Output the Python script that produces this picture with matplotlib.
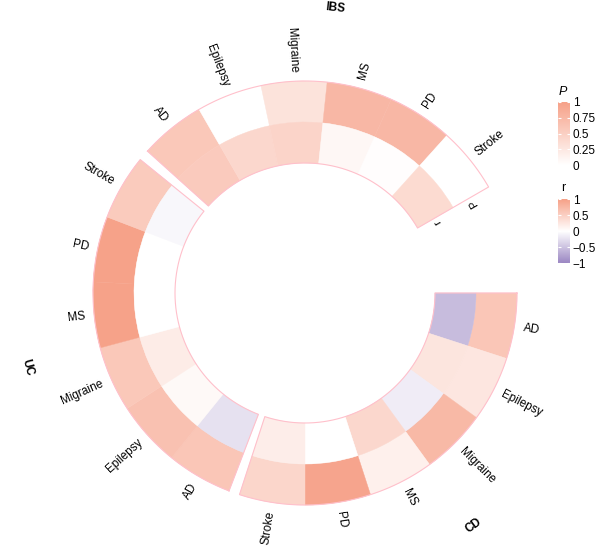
import numpy as np
import matplotlib as mpl
import matplotlib.pyplot as plt
from matplotlib.colors import LinearSegmentedColormap, Normalize

plt.rcParams['font.family'] = ['Liberation Sans', 'DejaVu Sans']

# Datos
sectores = ["CD", "UC", "IBS"]
enfermedades = ["AD", "Epilepsy", "Migraine", "MS", "PD", "Stroke"]

P_CD = [0.60, 0.26, 0.74, 0.16, 0.95, 0.43]
P_UC = [0.60, 0.65, 0.58, 0.98, 0.98, 0.55]
P_IBS = [0.58, 0.0, 0.30, 0.75, 0.75, 0.0]

r_CD = [-0.55, 0.28, -0.15, 0.42, 0.0, 0.18]
r_UC = [-0.25, 0.07, 0.20, 0.0, 0.0, -0.07]
r_IBS = [0.55, 0.42, 0.45, 0.08, 0.02, 0.38]

P_ticks = [0, 0.25, 0.5, 0.75, 1]
P_labels = ["0", "0.25", "0.5", "0.75", "1"]
r_ticks = [-1, -0.5, 0, 0.5, 1]
r_labels = ["\u22121", "\u22120.5", "0", "0.5", "1"]

datos_P = [P_CD, P_UC, P_IBS]
datos_r = [r_CD, r_UC, r_IBS]

# Colores
col_alto = "#F6A087"
col_bajo = "#9A86C2"
cmap_P = LinearSegmentedColormap.from_list("P", ["white", col_alto])
cmap_r = LinearSegmentedColormap.from_list("r", [col_bajo, "white", col_alto])
norm_P = Normalize(0, 1)
norm_r = Normalize(-1, 1)

fig = plt.figure(figsize=(6, 5.52), dpi=100)
R = 215
ax = fig.add_axes([(305 - R) / 600, (259 - R) / 552, 2 * R / 600, 2 * R / 552],
                  projection="polar")
ax.set_theta_zero_location("E")
ax.set_theta_direction(-1)
ax.set_ylim(0, R)
ax.axis("off")

ancho = 18   # grados por celda
hueco = 3    # grados entre sectores
r_in, r_mid, r_out = 130, 171, 212

for i, sec in enumerate(sectores):
    inicio = i * (len(enfermedades) * ancho + hueco)
    fin = inicio + len(enfermedades) * ancho
    th = np.deg2rad(inicio + ancho * (np.arange(len(enfermedades)) + 0.5))

    cP = cmap_P(norm_P(datos_P[i]))
    cr = cmap_r(norm_r(datos_r[i]))
    ax.bar(th, r_out - r_mid, width=np.deg2rad(ancho), bottom=r_mid,
           color=cP, edgecolor=cP, linewidth=0.3)
    ax.bar(th, r_mid - r_in, width=np.deg2rad(ancho), bottom=r_in,
           color=cr, edgecolor=cr, linewidth=0.3)

    # borde del sector
    t = np.linspace(inicio, fin, 200)
    tt = np.deg2rad(np.concatenate([t, t[::-1], [t[0]]]))
    rr = np.concatenate([np.full(200, r_out), np.full(200, r_in), [r_out]])
    ax.plot(tt, rr, color="pink", lw=0.8)

    # etiquetas de cada celda
    for j, nombre in enumerate(enfermedades):
        ang = inicio + ancho * (j + 0.5)
        rot = (-ang + 180) % 360 - 180
        if -90 <= rot <= 90:
            ha = "left"
        else:
            rot = (rot + 360) % 360 - 180
            ha = "right"
        ax.text(np.deg2rad(ang), 221, nombre, rotation=rot, rotation_mode="anchor",
                ha=ha, va="center", fontsize=8.5)

    # titulo del sector
    medio = (inicio + fin) / 2
    rot = (-medio - 90 + 180) % 360 - 180
    if rot <= -90 or rot > 90:
        rot = (rot + 360) % 360 - 180
    ax.text(np.deg2rad(medio), 287, sec, rotation=rot, rotation_mode="anchor",
            ha="center", va="center", fontsize=8.5, fontweight="bold")

# nombres de las pistas
ax.text(np.deg2rad(332), (r_mid + r_out) / 2, "P", rotation=120,
        rotation_mode="anchor", ha="center", va="center", fontsize=8)
ax.text(np.deg2rad(332), (r_in + r_mid) / 2, "r", rotation=120,
        rotation_mode="anchor", ha="center", va="center", fontsize=8)

# leyendas
def leyenda(y_arriba, y_abajo, cmap, norm, ticks, labels, titulo, y_titulo, estilo):
    cax = fig.add_axes([558 / 600, (552 - y_abajo) / 552, 12 / 600, (y_abajo - y_arriba) / 552])
    cb = fig.colorbar(mpl.cm.ScalarMappable(norm=norm, cmap=cmap), cax=cax, ticks=ticks)
    cb.outline.set_visible(False)
    cb.set_ticklabels(labels)
    cax.yaxis.set_ticks_position("both")
    cax.tick_params(direction="in", color="white", length=2.5, width=0.8,
                    labelsize=8.5, pad=2, labelleft=False, labelright=True)
    fig.text(563 / 600, 1 - y_titulo / 552, titulo, ha="center", va="center",
             fontsize=9, style=estilo)

leyenda(102, 165, cmap_P, norm_P, P_ticks, P_labels, "P", 92, "italic")
leyenda(199, 263, cmap_r, norm_r, r_ticks, r_labels, "r", 188, "normal")

fig.savefig("out.png", dpi=100)
